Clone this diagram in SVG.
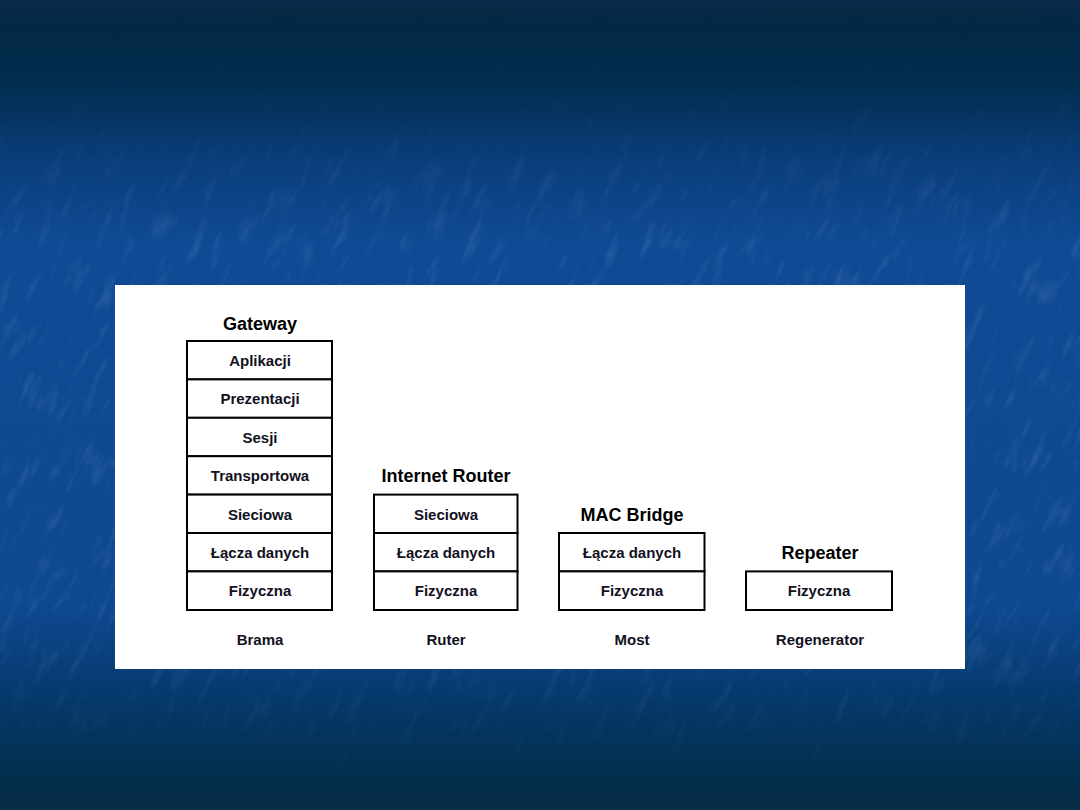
<svg xmlns="http://www.w3.org/2000/svg" width="1080" height="810" viewBox="0 0 1080 810">
<defs>
<linearGradient id="bg" x1="0" y1="0" x2="0" y2="1">
<stop offset="0" stop-color="#0a2a48"/>
<stop offset="0.03" stop-color="#022844"/>
<stop offset="0.1" stop-color="#022c4e"/>
<stop offset="0.2" stop-color="#0a3e7c"/>
<stop offset="0.3" stop-color="#0f4a94"/>
<stop offset="0.75" stop-color="#0e4890"/>
<stop offset="0.85" stop-color="#063a70"/>
<stop offset="0.95" stop-color="#02304f"/>
<stop offset="1" stop-color="#062b45"/>
</linearGradient>
<linearGradient id="fade" x1="0" y1="0" x2="0" y2="1">
<stop offset="0" stop-color="#fff" stop-opacity="0"/>
<stop offset="0.15" stop-color="#fff" stop-opacity="0.2"/>
<stop offset="0.3" stop-color="#fff" stop-opacity="1"/>
<stop offset="0.8" stop-color="#fff" stop-opacity="1"/>
<stop offset="0.92" stop-color="#fff" stop-opacity="0.2"/>
<stop offset="1" stop-color="#fff" stop-opacity="0"/>
</linearGradient>
<mask id="m"><rect x="0" y="0" width="1080" height="810" fill="url(#fade)"/></mask>
<filter id="tex" x="0" y="0" width="100%" height="100%">
<feTurbulence type="fractalNoise" baseFrequency="0.025 0.1" numOctaves="3" seed="4" result="n"/>
<feColorMatrix in="n" type="matrix" values="0 0 0 0 0.55  0 0 0 0 0.7  0 0 0 0 1  0 0 0 1.6 -0.85"/>
</filter>
<style>
.cell{fill:#ffffff;stroke:#000000;stroke-width:2}
.t{font-family:"Liberation Sans",Arial,sans-serif;font-weight:bold;font-size:15px;fill:#111122;text-anchor:middle}
.h{font-family:"Liberation Sans",Arial,sans-serif;font-weight:bold;font-size:18px;fill:#000000;text-anchor:middle}
</style>
</defs>
<rect x="0" y="0" width="1080" height="810" fill="url(#bg)"/>
<g mask="url(#m)">
<g transform="rotate(-65 540 405)" opacity="0.2">
<rect x="-300" y="-300" width="1680" height="1410" filter="url(#tex)"/>
</g>
</g>
<rect x="115" y="285" width="850" height="384" fill="#ffffff"/>

<g id="gateway">
<text class="h" x="260" y="330">Gateway</text>
<rect class="cell" x="187" y="341" width="145" height="38.4"/>
<rect class="cell" x="187" y="379.4" width="145" height="38.4"/>
<rect class="cell" x="187" y="417.8" width="145" height="38.4"/>
<rect class="cell" x="187" y="456.2" width="145" height="38.4"/>
<rect class="cell" x="187" y="494.6" width="145" height="38.4"/>
<rect class="cell" x="187" y="533" width="145" height="38.4"/>
<rect class="cell" x="187" y="571.4" width="145" height="38.6"/>
<text class="t" x="260" y="366">Aplikacji</text>
<text class="t" x="260" y="404">Prezentacji</text>
<text class="t" x="260" y="443">Sesji</text>
<text class="t" x="260" y="481">Transportowa</text>
<text class="t" x="260" y="520">Sieciowa</text>
<text class="t" x="260" y="558">Łącza danych</text>
<text class="t" x="260" y="596">Fizyczna</text>
<text class="t" x="260" y="645">Brama</text>
</g>

<g id="router">
<text class="h" x="446" y="482">Internet Router</text>
<rect class="cell" x="374" y="494.6" width="143.5" height="38.4"/>
<rect class="cell" x="374" y="533" width="143.5" height="38.4"/>
<rect class="cell" x="374" y="571.4" width="143.5" height="38.6"/>
<text class="t" x="446" y="520">Sieciowa</text>
<text class="t" x="446" y="558">Łącza danych</text>
<text class="t" x="446" y="596">Fizyczna</text>
<text class="t" x="446" y="645">Ruter</text>
</g>

<g id="bridge">
<text class="h" x="632" y="521">MAC Bridge</text>
<rect class="cell" x="559" y="533" width="145.5" height="38.4"/>
<rect class="cell" x="559" y="571.4" width="145.5" height="38.6"/>
<text class="t" x="632" y="558">Łącza danych</text>
<text class="t" x="632" y="596">Fizyczna</text>
<text class="t" x="632" y="645">Most</text>
</g>

<g id="repeater">
<text class="h" x="820" y="559">Repeater</text>
<rect class="cell" x="746" y="571.4" width="146" height="38.6"/>
<text class="t" x="819" y="596">Fizyczna</text>
<text class="t" x="820" y="645">Regenerator</text>
</g>

<g id="connectors"></g>
</svg>
